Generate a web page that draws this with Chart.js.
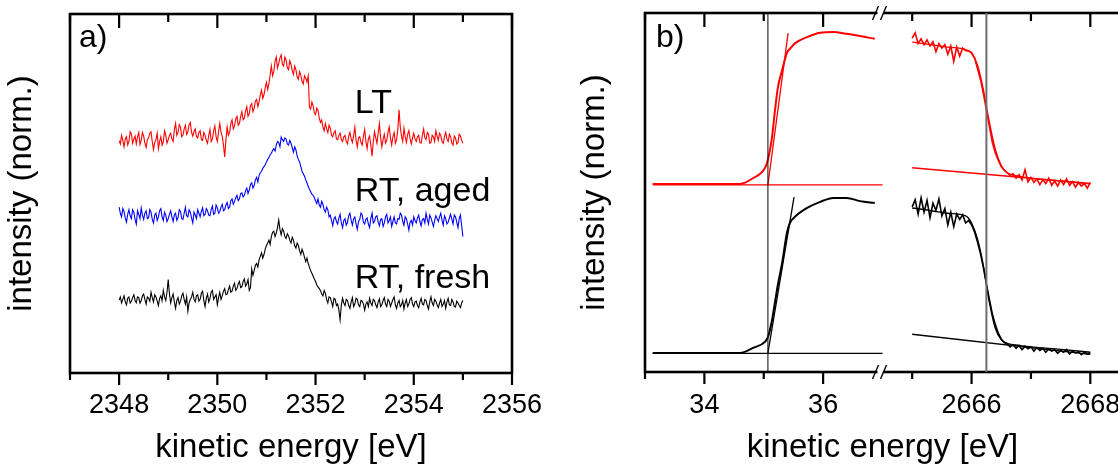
<!DOCTYPE html>
<html>
<head>
<meta charset="utf-8">
<title>kinetic energy spectra</title>
<script src="https://cdn.jsdelivr.net/npm/chart.js@4.4.1/dist/chart.umd.min.js"></script>
<style>
  html, body { margin: 0; padding: 0; background: #fff; overflow: hidden; }
  body { width: 1118px; height: 470px; position: relative; }
  canvas { position: absolute; top: 0; }
  #panelA { left: 0; }
  #panelB, #panelB2 { left: 560px; }
</style>
</head>
<body>
<canvas id="panelA" width="560" height="470"></canvas>
<canvas id="panelB" width="560" height="470"></canvas>
<canvas id="panelB2" width="560" height="470"></canvas>
<script>
// ---- panel a: three spectra, offset vertically (norm. intensity)
const startA = 2348, stepA = 0.025;
const ltA = [
  6.47,6.38,6.62,6.48,6.30,6.52,6.58,6.35,6.45,6.72,6.66,6.40,6.52,6.60,6.38,6.58,6.70,6.36,6.48,6.70,
  6.60,6.40,6.28,6.50,6.55,6.68,6.72,6.45,6.22,6.42,6.50,6.68,6.25,6.45,6.58,6.35,6.44,6.75,6.62,6.40,
  6.50,6.62,6.68,6.52,6.45,6.78,6.95,6.62,6.70,6.92,6.85,6.58,6.62,6.80,6.90,6.65,6.72,6.92,6.98,6.70,
  6.60,6.72,6.80,6.58,6.55,6.70,6.75,6.50,6.48,6.70,6.62,6.48,6.40,6.62,6.78,6.45,6.52,6.75,6.88,6.58,
  6.45,6.72,6.95,6.70,6.60,6.35,6.02,6.50,6.85,6.62,6.70,6.95,7.05,6.80,6.88,7.08,7.15,6.90,6.95,7.15,
  7.28,7.05,7.10,7.30,7.42,7.15,7.22,7.45,7.50,7.28,7.38,7.58,7.62,7.42,7.55,7.75,7.88,7.65,7.75,7.95,
  8.10,7.90,8.05,8.30,8.55,8.28,8.40,8.68,8.80,8.50,8.62,8.78,8.86,8.60,8.55,8.80,8.72,8.50,8.45,8.70,
  8.60,8.42,8.32,8.55,8.45,8.25,8.18,8.40,8.30,8.12,8.05,8.28,8.22,8.10,8.28,7.40,7.35,7.55,7.45,7.25,
  7.20,7.38,7.32,7.10,6.98,7.05,6.85,6.75,6.95,6.80,6.70,6.90,6.82,6.62,6.58,6.70,6.75,6.52,6.50,6.62,
  6.68,6.50,6.45,6.58,6.62,6.45,6.38,6.60,6.70,6.52,6.42,6.62,6.85,6.48,6.30,6.55,6.58,6.42,6.35,6.60,
  6.78,6.45,6.25,6.52,6.60,6.35,6.04,6.45,6.72,6.55,6.40,6.68,6.95,6.55,6.30,6.50,6.65,6.40,6.48,6.70,
  6.85,6.55,6.35,6.58,6.70,6.40,6.50,6.78,7.33,6.85,6.60,6.45,6.82,6.58,6.42,6.65,6.75,6.52,6.38,6.55,
  6.68,6.52,6.45,6.58,6.62,6.42,6.40,6.62,6.80,6.55,6.50,6.70,6.65,6.40,6.42,6.62,6.58,6.45,6.75,6.60,
  6.48,6.68,6.62,6.45,6.40,6.58,6.70,6.52,6.45,6.65,6.58,6.40,6.35,6.60,6.55,6.38,6.42,6.65,6.60,6.48,
  6.40
];
const agedA = [
  4.62,4.45,4.35,4.58,4.50,4.32,4.20,4.42,4.55,4.38,4.30,4.55,4.48,4.28,4.15,4.52,4.42,4.30,4.60,4.40,
  4.28,4.45,4.52,4.30,4.32,4.55,4.48,4.28,4.18,4.40,4.45,4.25,4.35,4.52,4.58,4.35,4.25,4.48,4.40,4.22,
  4.30,4.42,4.52,4.35,4.22,4.40,4.45,4.25,4.33,4.55,4.50,4.30,4.28,4.45,4.62,4.38,4.35,4.55,4.48,4.32,
  4.18,4.48,4.40,4.30,4.55,4.45,4.35,4.50,4.60,4.38,4.42,4.58,4.52,4.40,4.38,4.55,4.65,4.42,4.45,4.68,
  4.60,4.45,4.50,4.62,4.70,4.52,4.55,4.68,4.75,4.58,4.62,4.80,4.85,4.70,4.78,4.88,4.95,4.80,4.85,5.00,
  5.02,4.90,4.95,5.08,5.15,5.00,5.10,5.25,5.30,5.15,5.22,5.38,5.45,5.32,5.50,5.58,5.62,5.70,5.75,5.80,
  5.88,5.95,6.00,6.08,6.12,6.20,6.25,6.18,6.35,6.45,6.42,6.30,6.57,6.50,6.45,6.55,6.52,6.38,6.35,6.48,
  6.40,6.28,6.15,6.30,6.22,6.05,5.95,5.88,5.75,5.62,5.55,5.48,5.38,5.30,5.20,5.12,5.05,4.98,4.95,4.88,
  4.80,4.72,4.85,4.68,4.62,4.78,4.70,4.55,4.48,4.62,4.55,4.35,4.40,4.25,4.10,4.30,4.35,4.22,4.15,4.32,
  4.42,4.18,4.05,4.25,4.30,4.12,4.20,4.38,4.45,4.25,4.12,4.30,4.35,4.15,4.00,4.22,4.28,4.45,4.40,4.20,
  4.15,4.28,4.32,4.15,4.05,4.30,4.45,4.18,4.22,4.35,4.38,4.20,4.10,4.28,4.30,4.08,4.18,4.35,4.42,4.18,
  4.25,4.35,4.08,4.22,4.35,4.18,4.15,4.30,4.28,4.45,4.40,4.22,4.12,4.35,4.30,4.15,3.98,4.20,4.25,4.12,
  4.35,4.25,4.18,4.32,4.40,4.22,4.10,4.28,4.30,4.18,4.45,4.28,4.15,4.40,4.32,4.20,4.08,4.25,4.38,4.30,
  4.22,4.35,4.45,4.25,4.12,4.38,4.30,4.15,4.20,4.32,4.42,4.28,4.15,4.40,4.35,4.20,4.05,4.30,4.40,4.10,
  3.80
];
const freshA = [
  2.03,2.12,1.95,2.05,2.15,1.98,1.90,2.08,2.12,1.95,2.00,2.10,2.18,2.02,1.96,2.12,2.10,1.95,2.02,2.15,
  2.20,2.05,1.92,2.12,2.08,2.00,2.25,2.10,1.98,2.18,2.12,2.00,1.88,2.08,2.15,2.02,2.30,2.12,2.02,2.25,
  2.60,2.20,1.95,2.10,2.20,1.98,1.80,2.02,2.10,1.92,2.00,2.15,2.22,2.05,1.92,2.12,1.72,1.95,2.05,2.12,
  2.25,2.05,1.98,2.15,2.18,2.00,2.05,2.22,2.28,2.02,1.85,2.08,2.20,1.98,2.08,2.25,2.30,2.05,2.12,2.18,
  1.90,2.10,2.25,2.05,2.15,2.28,2.35,2.18,2.20,2.32,2.42,2.25,2.28,2.42,2.50,2.30,2.35,2.48,2.55,2.38,
  2.40,2.55,2.62,2.42,2.48,2.60,2.30,2.38,2.90,2.72,2.85,3.00,3.05,2.95,3.15,3.25,3.35,3.20,3.30,3.45,
  3.55,3.62,3.70,3.58,3.80,3.92,3.95,3.80,3.90,4.05,4.26,4.00,3.85,4.02,3.95,3.80,3.75,3.88,3.82,3.70,
  3.62,3.78,3.70,3.55,3.48,3.62,3.55,3.40,3.30,3.45,3.35,3.22,3.10,3.20,3.05,2.95,2.85,2.78,2.70,2.62,
  2.55,2.45,2.40,2.35,2.30,2.20,2.15,2.30,2.22,2.05,1.95,2.12,2.10,1.98,1.85,2.08,2.05,1.88,1.92,1.75,
  1.48,1.90,2.08,1.95,1.88,2.05,2.02,1.88,1.80,1.98,2.10,1.85,1.92,2.08,2.05,1.90,1.85,2.02,2.00,1.92,
  1.75,1.92,1.98,1.85,2.08,1.95,1.88,2.05,2.02,1.90,1.82,1.98,2.06,1.85,1.90,2.02,2.10,1.92,1.85,2.05,
  2.00,1.85,1.95,2.05,2.12,1.90,1.80,1.95,2.02,1.85,1.90,2.02,1.78,1.95,2.05,1.85,1.92,2.05,2.10,1.92,
  1.85,1.98,2.00,1.88,1.82,1.98,2.08,1.92,1.90,2.05,2.02,1.88,1.78,1.98,2.12,1.95,1.88,2.05,2.00,1.90,
  1.82,1.95,2.05,1.85,1.92,2.02,1.80,1.98,2.08,1.90,1.88,2.05,1.98,1.85,1.84,2.00,1.95,1.88,1.82,1.95,
  2.02
];
const energyA = ltA.map((_, i) => +(startA + stepA * i).toFixed(3));
const seriesA = ['LT', 'RT, aged', 'RT, fresh'];
const tickLabelsA = [2348, 2350, 2352, 2354, 2356];
// where the series names sit (energy, intensity)
const tagA = [[2352.8, 7.24], [2352.8, 4.79], [2352.8, 2.37]];

// ---- panel b, left part: low energy cutoff (red = LT, black = RT)
const cutoffE  = [33.13, 34.00, 34.60, 34.82, 35.02, 35.07, 35.14, 35.19, 35.24, 35.31,
                  35.39, 35.44, 35.53, 35.73, 35.95, 36.17, 36.40, 36.62, 36.87];
const cutoffLT = [5.24, 5.24, 5.24, 5.40, 5.68, 5.91, 6.55, 7.30, 7.94, 8.41,
                  8.89, 9.00, 9.16, 9.33, 9.45, 9.47, 9.42, 9.36, 9.28];
const cutoffRT = [0.53, 0.53, 0.53, 0.67, 0.84, 0.97, 1.45, 1.95, 2.45, 3.04,
                  3.87, 4.15, 4.33, 4.57, 4.74, 4.85, 4.85, 4.76, 4.71];
const tanLTe = [35.07, 35.41], tanLTi = [5.21, 9.44];
const tanRTe = [35.07, 35.51], tanRTi = [0.53, 4.87];
const baseE = [33.13, 37.0], baseLTi = [5.21, 5.21], baseRTi = [0.52, 0.52];
const onsetE = 35.07;
const ticksB1 = [33, 34, 35, 36];
const tickLabelsB1 = [34, 36];

// ---- panel b, right part: Fermi edge
const startF = 2665, stepF = 0.05;
const fermiLT = [
  9.30, 9.45, 9.15, 9.28, 9.12, 9.25, 9.08, 9.20, 8.92, 9.15,
  9.02, 9.12, 8.85, 9.08, 8.65, 9.05, 8.80, 9.02, 8.95, 8.95,
  8.90, 8.75, 8.45, 8.15, 7.75, 7.30, 6.85, 6.40, 6.10, 5.90,
  5.72, 5.62, 5.55, 5.48, 5.52, 5.40, 5.50, 5.35, 5.63, 5.30,
  5.42, 5.28, 5.38, 5.22, 5.36, 5.25, 5.40, 5.20, 5.32, 5.18,
  5.35, 5.22, 5.38, 5.20, 5.30, 5.15, 5.28, 5.18, 5.25, 5.12,
  5.28
];
const fermiRT = [
  4.60, 4.80, 4.40, 4.85, 4.45, 4.78, 4.30, 4.70, 4.50, 4.82,
  4.35, 4.55, 4.10, 4.45, 4.05, 4.40, 4.25, 4.38, 4.15, 4.22,
  4.10, 3.90, 3.62, 3.30, 2.90, 2.45, 2.02, 1.62, 1.32, 1.08,
  0.92, 0.82, 0.78, 0.70, 0.76, 0.66, 0.74, 0.62, 0.72, 0.65,
  0.70, 0.58, 0.68, 0.60, 0.66, 0.55, 0.64, 0.58, 0.62, 0.52,
  0.60, 0.55, 0.63, 0.50, 0.58, 0.53, 0.56, 0.48, 0.55, 0.50,
  0.53
];
const energyF = fermiLT.map((_, i) => +(startF + stepF * i).toFixed(2));
const fitE  = [2665.0, 2665.3, 2665.6, 2665.9, 2666.0, 2666.1, 2666.2, 2666.3,
               2666.4, 2666.5, 2666.6, 2666.8, 2667.0, 2667.5, 2668.0];
const fitLT = [9.19, 9.12, 9.05, 8.98, 8.88, 8.55, 7.85, 6.95, 6.20, 5.75, 5.55, 5.45, 5.40, 5.32, 5.24];
const fitRT = [4.57, 4.50, 4.42, 4.35, 4.15, 3.70, 2.95, 1.95, 1.22, 0.90, 0.80, 0.74, 0.70, 0.63, 0.55];
const bgE = [2665, 2668], bgLT = [5.69, 5.25], bgRT = [1.05, 0.49];
const edgeE = 2666.25;
const ticksB2 = [2665, 2666, 2667, 2668];
const tickLabelsB2 = [2666, 2668];

const FONT = '"Liberation Sans", Arial, Helvetica, sans-serif';
Chart.defaults.font.family = FONT;
Chart.defaults.color = '#000';

const pts = (xs, ys) => xs.map((x, i) => ({ x: x, y: ys[i] }));

function line(xs, ys, color, width, smooth) {
  return {
    data: pts(xs, ys),
    borderColor: color,
    borderWidth: width,
    pointRadius: 0,
    fill: false,
    tension: 0,
    cubicInterpolationMode: smooth ? 'monotone' : 'default'
  };
}

// ticks on the frame: inward at the top, outward at the bottom
function tickMarks(ctx, scale, a, from, to) {
  for (const t of scale.ticks) {
    const v = t.value;
    if (v < from || v > to || !Number.isInteger(v)) continue;
    const px = scale.getPixelForValue(v);
    const major = v % 2 === 0;
    ctx.moveTo(px, a.top);
    ctx.lineTo(px, a.top + (major ? 14 : 8));
    ctx.moveTo(px, a.bottom);
    ctx.lineTo(px, a.bottom + (major ? 12 : 7));
  }
}

// fixed axis box sizes, and no extra room for edge labels
const fitX = h => s => { s.height = h; s.paddingLeft = 0; s.paddingRight = 0; };
const fitY = w => s => { s.width = w; s.paddingTop = 0; s.paddingBottom = 0; };

const xTitle = { display: true, text: 'kinetic energy [eV]', font: { size: 33 }, color: '#000', padding: { top: 0, bottom: 2 } };
const noGrid = { display: false, drawTicks: false };
const tickFont = { size: 27 };

// ================= panel a =================
const frameA = {
  id: 'frameA',
  afterDraw(chart) {
    const { ctx, chartArea: a, scales: { x, y } } = chart;
    ctx.save();
    ctx.strokeStyle = '#000';
    ctx.lineWidth = 2.6;
    ctx.strokeRect(a.left, a.top, a.right - a.left, a.bottom - a.top);
    ctx.beginPath();
    ctx.lineWidth = 2.2;
    tickMarks(ctx, x, a, 2347, 2356);
    ctx.stroke();
    ctx.fillStyle = '#000';
    ctx.textBaseline = 'alphabetic';
    ctx.font = '32px ' + FONT;
    ctx.fillText('a)', a.left + 9, a.top + 33);
    ctx.font = '34px ' + FONT;
    chart.data.datasets.forEach((ds, i) => {
      ctx.fillText(ds.label, x.getPixelForValue(tagA[i][0]), y.getPixelForValue(tagA[i][1]));
    });
    ctx.restore();
  }
};

const colorsA = ['#ff0000', '#0000ff', '#000000'];
new Chart(document.getElementById('panelA'), {
  type: 'line',
  data: {
    datasets: [ltA, agedA, freshA].map((vals, i) =>
      Object.assign(line(energyA, vals, colorsA[i], 1.1, false), { label: seriesA[i] }))
  },
  options: {
    responsive: false,
    animation: false,
    events: [],
    layout: { padding: { top: 14, right: 48, left: 0, bottom: 0 } },
    plugins: { legend: { display: false }, tooltip: { enabled: false } },
    scales: {
      x: {
        type: 'linear', min: 2347, max: 2356,
        afterFit: fitX(97),
        ticks: {
          stepSize: 1, autoSkip: false, maxRotation: 0, padding: 16,
          font: tickFont, color: '#000',
          callback: v => tickLabelsA.includes(v) ? String(v) : ''
        },
        grid: noGrid, border: { display: false },
        title: xTitle
      },
      y: {
        min: 0, max: 10,
        afterFit: fitY(70),
        ticks: { display: false },
        grid: noGrid, border: { display: false },
        title: { display: true, text: 'intensity (norm.)', font: { size: 33 }, color: '#000', padding: { top: 2, bottom: 0 } }
      }
    }
  },
  plugins: [frameA]
});

// ================= panel b, left part (carries frame and titles) =================
const frameB1 = {
  id: 'frameB1',
  afterDraw(chart) {
    const { ctx, chartArea: a, scales: { x } } = chart;
    ctx.save();
    ctx.strokeStyle = '#000';
    ctx.lineWidth = 2.6;
    ctx.strokeRect(a.left, a.top, a.right - a.left, a.bottom - a.top);
    ctx.beginPath();
    ctx.lineWidth = 2.2;
    tickMarks(ctx, x, a, 33, 36);
    ctx.stroke();
    ctx.fillStyle = '#000';
    ctx.font = '32px ' + FONT;
    ctx.fillText('b)', a.left + 11, a.top + 34);
    ctx.restore();
  }
};

new Chart(document.getElementById('panelB'), {
  type: 'line',
  data: {
    datasets: [
      line([onsetE, onsetE], [0, 10], '#1a1a1a', 1.1, false),
      line(baseE, baseLTi, '#ff0000', 1.3, false),
      line(tanLTe, tanLTi, '#ff0000', 1.3, false),
      line(cutoffE, cutoffLT, '#ff0000', 2, true),
      line(baseE, baseRTi, '#000000', 1.3, false),
      line(tanRTe, tanRTi, '#000000', 1.3, false),
      line(cutoffE, cutoffRT, '#000000', 2, true)
    ]
  },
  options: {
    responsive: false,
    animation: false,
    events: [],
    layout: { padding: { top: 13, right: 0, left: 0, bottom: 0 } },
    plugins: { legend: { display: false }, tooltip: { enabled: false } },
    scales: {
      x: {
        type: 'linear', min: 33, max: 41,
        afterFit: fitX(98),
        afterBuildTicks: s => { s.ticks = ticksB1.map(v => ({ value: v })); },
        ticks: {
          autoSkip: false, maxRotation: 0, padding: 17,
          font: tickFont, color: '#000',
          callback: v => tickLabelsB1.includes(v) ? String(v) : ''
        },
        grid: noGrid, border: { display: false },
        title: xTitle
      },
      y: {
        min: 0, max: 10,
        afterFit: fitY(85),
        ticks: { display: false },
        grid: noGrid, border: { display: false },
        title: { display: true, text: 'intensity (norm.)', font: { size: 33 }, color: '#000', padding: { top: 14.7, bottom: 0 } }
      }
    }
  },
  plugins: [frameB1]
});

// ================= panel b, right part =================
const frameB2 = {
  id: 'frameB2',
  afterDraw(chart) {
    const { ctx, chartArea: a, scales: { x } } = chart;
    ctx.save();
    ctx.strokeStyle = '#000';
    ctx.lineWidth = 2.2;
    ctx.beginPath();
    tickMarks(ctx, x, a, 2665, 2668);
    ctx.stroke();
    // axis break marks
    ctx.lineWidth = 1.4;
    for (const yy of [a.top, a.bottom]) {
      ctx.fillStyle = '#fff';
      ctx.fillRect(a.left - 5, yy - 2, 6, 4);
      ctx.beginPath();
      ctx.moveTo(a.left - 10, yy + 7);
      ctx.lineTo(a.left - 4, yy - 7);
      ctx.moveTo(a.left - 2, yy + 7);
      ctx.lineTo(a.left + 4, yy - 7);
      ctx.stroke();
    }
    ctx.restore();
  }
};

new Chart(document.getElementById('panelB2'), {
  type: 'line',
  data: {
    datasets: [
      line([edgeE, edgeE], [0, 10], '#6e6e6e', 2, false),
      line(bgE, bgLT, '#ff0000', 1.4, false),
      line(energyF, fermiLT, '#ff0000', 1.6, false),
      line(fitE, fitLT, '#ff0000', 1.4, true),
      line(bgE, bgRT, '#000000', 1.4, false),
      line(energyF, fermiRT, '#000000', 1.6, false),
      line(fitE, fitRT, '#000000', 1.4, true)
    ]
  },
  options: {
    responsive: false,
    animation: false,
    events: [],
    layout: { padding: { top: 13, right: 0, left: 322.5, bottom: 0 } },
    plugins: { legend: { display: false }, tooltip: { enabled: false } },
    scales: {
      x: {
        type: 'linear', min: 2664.5, max: 2668.5,
        afterFit: fitX(98),
        afterBuildTicks: s => { s.ticks = ticksB2.map(v => ({ value: v })); },
        ticks: {
          autoSkip: false, maxRotation: 0, padding: 17,
          font: tickFont, color: '#000',
          callback: v => tickLabelsB2.includes(v) ? String(v) : ''
        },
        grid: noGrid, border: { display: false }
      },
      y: { display: false, min: 0, max: 10 }
    }
  },
  plugins: [frameB2]
});
</script>
</body>
</html>
